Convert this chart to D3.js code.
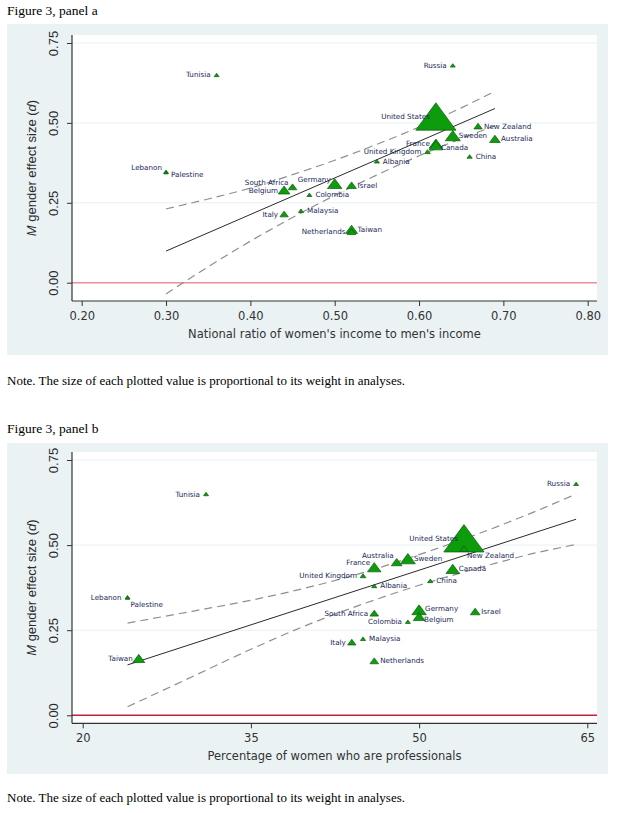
<!DOCTYPE html>
<html>
<head>
<meta charset="utf-8">
<script src="https://cdn.jsdelivr.net/npm/d3@7"></script>
<style>
  html, body { margin: 0; padding: 0; background: #ffffff; }
  svg { display: block; }
</style>
</head>
<body>
<svg id="chart" width="617" height="813"></svg>
<script>
// ---------------- DATA ----------------
const countries = ["Tunisia","Russia","United States","New Zealand","Sweden","Australia","France","Canada",
  "United Kingdom","China","Albania","Germany","Belgium","Israel","South Africa","Colombia","Malaysia",
  "Italy","Taiwan","Netherlands","Lebanon","Palestine"];
// mean gender effect size (d), shared by both panels
const effectSize = [0.65,0.68,0.52,0.49,0.46,0.45,0.435,0.43,0.41,0.395,0.38,0.31,0.29,0.305,0.30,0.275,0.225,
  0.215,0.167,0.16,0.347,0.345];
// panel a x: national ratio of women's income to men's income
const incomeRatio = [0.36,0.64,0.62,0.67,0.64,0.69,0.62,0.62,0.61,0.66,0.55,0.50,0.44,0.52,0.45,0.47,0.46,
  0.44,0.52,0.52,0.30,0.30];
// panel b x: percentage of women who are professionals
const pctProfessionals = [31,64,54,54,49,48,46,53,45,51,46,50,50,55,46,49,45,44,25,46,24,24];
// relative weight in analyses (marker size)
const weights = [1,1,65,2.8,9,4.6,7.3,7.3,1.35,1.1,1.1,8.4,5.5,3.8,3,1,1.1,2.8,5.8,3,1,0.7];
// marker-label clock positions
const labelPosA = [9,9,9,3,3,3,9,4,9,3,3,10,9,3,10,3,3,9,3,9,10,4];
const labelPosB = [9,9,9,5,3,11,10,3,9,3,3,2,4,3,9,9,3,9,9,3,9,5];

// fitted line and 95% CI
const fitA_x = [0.30, 0.69];
const fitA_y = [0.099, 0.545];
const ciA_x = [0.30,0.35,0.40,0.45,0.50,0.55,0.60,0.65,0.69];
const ciA_upper = [0.231,0.262,0.296,0.338,0.383,0.433,0.487,0.547,0.599];
const ciA_lower = [-0.035,0.050,0.130,0.204,0.273,0.337,0.397,0.451,0.491];

// fitted line and 95% CI
const fitB_x = [24, 64];
const fitB_y = [0.148, 0.576];
const ciB_x = [24,30,35,40,45,50,55,60,64];
const ciB_upper = [0.271,0.307,0.338,0.375,0.419,0.472,0.530,0.594,0.650];
const ciB_lower = [0.025,0.117,0.194,0.265,0.327,0.382,0.430,0.474,0.502];

const yTicks = [0, 0.25, 0.50, 0.75];
const xTicksA = [0.20,0.30,0.40,0.50,0.60,0.70,0.80];
const xTicksB = [20,35,50,65];

// ---------------- DRAW ----------------
const svg = d3.select("#chart");
const BG = "#eaf2f3";
const GREEN = "#0c9c0c", GREEN_DARK = "#0a5c0a";
const LABEL = "#1a2856";

svg.append("rect").attr("width",617).attr("height",813).attr("fill","#fff");

const sizeScale = d3.scaleSqrt().domain([0,65]).range([0,40.3]);

function triPath(w){
  const h = w*0.68;
  return `M0,${-h/2}L${w/2},${h/2}L${-w/2},${h/2}Z`;
}
function labelOffset(pos){
  switch(pos){
    case 2: return [6,-1.5,"start"];
    case 3: return [6,0,"start"];
    case 4: return [5,2.5,"start"];
    case 5: return [3,7,"start"];
    case 10: return [-4,-4.5,"end"];
    case 11: return [-3,-7,"end"];
    case 9: default: return [-6,0,"end"];
  }
}

function drawPanel(cfg){
  const g = svg.append("g");
  // figure caption
  g.append("text").attr("x",7).attr("y",cfg.titleY).text(cfg.title)
    .attr("font-family","Liberation Serif, Times New Roman, serif").attr("font-size",13.5).attr("fill","#000");
  g.append("text").attr("x",7).attr("y",cfg.noteY)
    .text("Note. The size of each plotted value is proportional to its weight in analyses.")
    .attr("font-family","Liberation Serif, Times New Roman, serif").attr("font-size",13).attr("fill","#000");

  // graph region
  g.append("rect").attr("x",7).attr("y",cfg.boxTop).attr("width",601).attr("height",331).attr("fill",BG);
  const L = 72, R = 597, T = cfg.plotTop, B = cfg.plotBottom;
  g.append("rect").attr("x",L).attr("y",T).attr("width",R-L).attr("height",B-T).attr("fill","#fff");

  const x = cfg.x, y = cfg.y;

  // gridlines
  g.selectAll(".grid").data(yTicks.filter(v=>v>0)).join("line")
    .attr("x1",L).attr("x2",R).attr("y1",d=>y(d)).attr("y2",d=>y(d))
    .attr("stroke","#e9f0f1").attr("stroke-width",1);
  // reference line at zero
  g.append("line").attr("x1",L).attr("x2",R).attr("y1",y(0)).attr("y2",y(0))
    .attr("stroke",cfg.zeroColor).attr("stroke-width",1.5);

  // CI and fit
  const ciLine = d3.line().x(d=>x(d[0])).y(d=>y(d[1])).curve(d3.curveMonotoneX);
  [cfg.ciUpper, cfg.ciLower].forEach(arr=>{
    g.append("path").datum(cfg.ciX.map((v,i)=>[v,arr[i]])).attr("d",ciLine)
      .attr("fill","none").attr("stroke","#8f8f8f").attr("stroke-width",1.2).attr("stroke-dasharray","8,5");
  });
  g.append("path").datum(cfg.fitX.map((v,i)=>[v,cfg.fitY[i]])).attr("d",d3.line().x(d=>x(d[0])).y(d=>y(d[1])))
    .attr("fill","none").attr("stroke","#2a2a2a").attr("stroke-width",1);

  // markers (largest first)
  const idx = d3.range(countries.length).sort((a,b)=>weights[b]-weights[a]);
  g.selectAll(".mk").data(idx).join("path")
    .attr("d",i=>triPath(sizeScale(weights[i])))
    .attr("transform",i=>`translate(${x(cfg.xv[i])},${y(effectSize[i])})`)
    .attr("fill",GREEN).attr("stroke",GREEN_DARK).attr("stroke-width",0.7);

  // marker labels
  g.selectAll(".lb").data(d3.range(countries.length)).join("text")
    .each(function(i){
      const [dx,dy,anchor] = labelOffset(cfg.pos[i]);
      d3.select(this).attr("x",x(cfg.xv[i])+dx).attr("y",y(effectSize[i])+dy).attr("dy","0.35em")
        .attr("text-anchor",anchor).text(countries[i]);
    })
    .attr("font-family","DejaVu Sans, Verdana, sans-serif").attr("font-size",7.2).attr("fill",LABEL);

  // axes
  const ax = d3.axisLeft(y).tickValues(yTicks).tickSize(5).tickFormat(d3.format(".2f"));
  const ga = g.append("g").attr("transform",`translate(${L},0)`).call(ax);
  ga.select(".domain").remove();
  ga.selectAll(".tick line").attr("stroke","#333");
  ga.selectAll(".tick text").attr("x",null).attr("dy",null)
    .attr("transform","translate(-14.5,0) rotate(-90)").attr("text-anchor","middle")
    .attr("font-family","Liberation Sans Narrow, Arial Narrow, sans-serif").attr("font-size",13).attr("fill","#2a2a2a");
  g.append("line").attr("x1",L).attr("x2",L).attr("y1",T).attr("y2",B).attr("stroke","#333").attr("stroke-width",1.2);

  const bx = d3.axisBottom(x).tickValues(cfg.xTicks).tickSize(5).tickFormat(cfg.xFmt);
  const gb = g.append("g").attr("transform",`translate(0,${B})`).call(bx);
  gb.select(".domain").remove();
  gb.selectAll(".tick line").attr("stroke","#333");
  gb.selectAll(".tick text").attr("y",11)
    .attr("font-family","DejaVu Sans, Verdana, sans-serif").attr("font-size",11.5).attr("fill","#333");
  g.append("line").attr("x1",L).attr("x2",R).attr("y1",B).attr("y2",B).attr("stroke","#333").attr("stroke-width",1.2);

  // axis titles
  g.append("text").attr("x",(L+R)/2).attr("y",B+37).attr("text-anchor","middle").text(cfg.xTitle)
    .attr("font-family","DejaVu Sans, Verdana, sans-serif").attr("font-size",11.5).attr("fill","#333");
  const yt = g.append("text").attr("transform",`translate(36,${(T+B)/2}) rotate(-90)`).attr("text-anchor","middle")
    .attr("font-family","Liberation Sans Narrow, Arial Narrow, sans-serif").attr("font-size",13).attr("fill","#2a2a2a");
  yt.append("tspan").attr("font-style","italic").text("M");
  yt.append("tspan").text(" gender effect size (");
  yt.append("tspan").attr("font-style","italic").text("d");
  yt.append("tspan").text(")");
}

drawPanel({
  title:"Figure 3, panel a", titleY:15, noteY:385, boxTop:24, plotTop:35, plotBottom:301,
  x: d3.scaleLinear().domain([0.2,0.8]).range([81.7,587.7]),
  y: d3.scaleLinear().domain([0,0.75]).range([282.7,43]),
  xv: incomeRatio, pos: labelPosA, zeroColor:"#ec8f9c",
  ciX: ciA_x, ciUpper: ciA_upper, ciLower: ciA_lower, fitX: fitA_x, fitY: fitA_y,
  xTicks: xTicksA, xFmt: d3.format(".2f"),
  xTitle: "National ratio of women's income to men's income"
});
drawPanel({
  title:"Figure 3, panel b", titleY:433, noteY:802, boxTop:443, plotTop:452, plotBottom:723.3,
  x: d3.scaleLinear().domain([20,65]).range([82.7,587.3]),
  y: d3.scaleLinear().domain([0,0.75]).range([715.3,460]),
  xv: pctProfessionals, pos: labelPosB, zeroColor:"#c0203e",
  ciX: ciB_x, ciUpper: ciB_upper, ciLower: ciB_lower, fitX: fitB_x, fitY: fitB_y,
  xTicks: xTicksB, xFmt: d3.format("d"),
  xTitle: "Percentage of women who are professionals"
});
</script>
</body>
</html>
